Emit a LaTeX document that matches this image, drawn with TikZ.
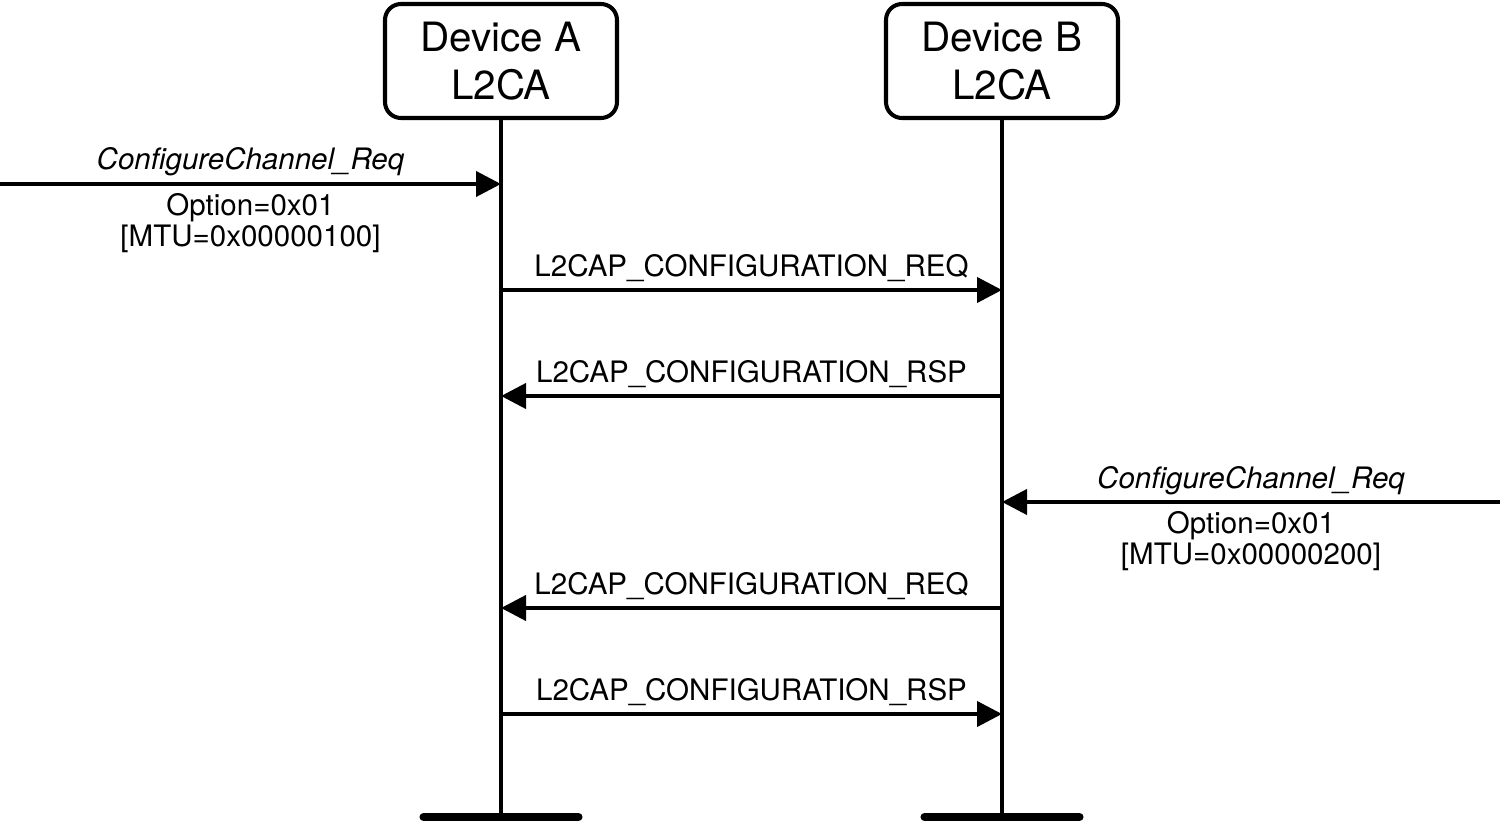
\documentclass[tikz,border=0pt]{standalone}
\usepackage{fontspec}
\setmainfont{TeX Gyre Heros}
\usetikzlibrary{arrows.meta}

\begin{document}
\begin{tikzpicture}
    \tikzstyle{dev} = [rectangle, rounded corners=0.16cm, draw=black, line width=1.15pt, align=center, minimum width=2.32cm, minimum height=1.14cm, inner sep=0pt, font=\fontsize{11.5}{13.7}\selectfont]
    \tikzstyle{life} = [line width=1.2pt]
    \tikzstyle{bar} = [line width=2.3pt, line cap=round]
    \tikzstyle{msg} = [-{Triangle[length=0.25cm,width=0.25cm]}, line width=1.15pt]
    \tikzstyle{lbl} = [anchor=base, font=\fontsize{8.4}{8}\selectfont, inner sep=0pt]
    \tikzstyle{param} = [anchor=north, align=center, font=\fontsize{8.4}{7.7}\selectfont, inner sep=0pt]

    \useasboundingbox (0,0) rectangle (15,-8.23);

    % devices and lifelines
    \node(devA) [dev] at (5.01,-0.61) {Device A\\L2CA};
    \node(devB) [dev] at (10.02,-0.61) {Device B\\L2CA};
    \coordinate (endA) at (5.01,-8.17);
    \coordinate (endB) at (10.02,-8.17);
    \draw[life] (devA) -- (endA);
    \draw[life] (devB) -- (endB);
    \draw[bar] ([xshift=-0.775cm]endA) -- ([xshift=0.775cm]endA);
    \draw[bar] ([xshift=-0.775cm]endB) -- ([xshift=0.775cm]endB);

    % message points
    \coordinate (inA) at (0,-1.84);
    \coordinate (a1) at (5.01,-1.84);
    \coordinate (a2) at (5.01,-2.90);
    \coordinate (b2) at (10.02,-2.90);
    \coordinate (a3) at (5.01,-3.96);
    \coordinate (b3) at (10.02,-3.96);
    \coordinate (inB) at (15,-5.02);
    \coordinate (b4) at (10.02,-5.02);
    \coordinate (a5) at (5.01,-6.08);
    \coordinate (b5) at (10.02,-6.08);
    \coordinate (a6) at (5.01,-7.14);
    \coordinate (b6) at (10.02,-7.14);

    \draw[msg] (inA) -- node[lbl, yshift=0.14cm] {\itshape ConfigureChannel\_Req}
        node[param, yshift=-0.07cm] {Option=0x01\\{[MTU=0x00000100]}} (a1);
    \draw[msg] (a2) -- node[lbl, yshift=0.13cm] {L2CAP\_CONFIGURATION\_REQ} (b2);
    \draw[msg] (b3) -- node[lbl, yshift=0.13cm] {L2CAP\_CONFIGURATION\_RSP} (a3);
    \draw[msg] (inB) -- node[lbl, yshift=0.14cm] {\itshape ConfigureChannel\_Req}
        node[param, yshift=-0.07cm] {Option=0x01\\{[MTU=0x00000200]}} (b4);
    \draw[msg] (b5) -- node[lbl, yshift=0.13cm] {L2CAP\_CONFIGURATION\_REQ} (a5);
    \draw[msg] (a6) -- node[lbl, yshift=0.13cm] {L2CAP\_CONFIGURATION\_RSP} (b6);
\end{tikzpicture}
\end{document}
